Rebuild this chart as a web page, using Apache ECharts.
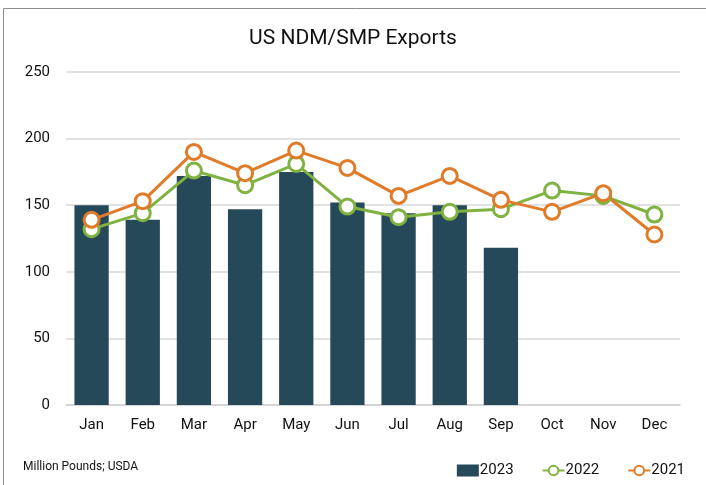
<!DOCTYPE html>
<html style="height: 100%">
<head>
    <meta charset="utf-8">
    <script src="https://cdn.jsdelivr.net/npm/echarts@6/dist/echarts.min.js"></script>
</head>
<body style="height: 100%; margin: 0; background: #fff;">
    <div id="container" style="width: 706px; height: 485px;"></div>
    <script>
    var months = ['Jan', 'Feb', 'Mar', 'Apr', 'May', 'Jun', 'Jul', 'Aug', 'Sep', 'Oct', 'Nov', 'Dec'];
    var exports2023 = [150, 139, 172, 147, 175, 152, 144, 150, 118];
    var exports2022 = [132, 144, 176, 165, 181, 149, 141, 145, 147, 161, 157, 143];
    var exports2021 = [139, 153, 190, 174, 191, 178, 157, 172, 154, 145, 159, 128];

    var font = "'Roboto', sans-serif";
    var barColor = '#26495a';
    var green = '#7fb241';
    var orange = '#e07b29';

    var chart = echarts.init(document.getElementById('container'));

    function lineSeries(name, data, color) {
        return {
            name: name,
            type: 'line',
            data: data,
            symbol: 'circle',
            symbolSize: 15,
            lineStyle: { color: color, width: 3 },
            itemStyle: { color: '#fff', borderColor: color, borderWidth: 3 },
            z: 3
        };
    }

    var option = {
        animation: false,
        textStyle: { fontFamily: font },
        title: {
            text: 'US NDM/SMP Exports',
            left: 'center',
            top: 23,
            textStyle: { fontFamily: font, fontSize: 21, fontWeight: 'normal', color: '#111' }
        },
        graphic: [{
            type: 'polyline',
            shape: { points: [[3.5, 490], [3.5, 8.5], [710, 8.5]] },
            style: { stroke: '#8c8c8c', lineWidth: 1, fill: null }
        }, {
            type: 'text',
            left: 23,
            top: 461,
            style: { text: 'Million Pounds; USDA', fontFamily: font, fontSize: 12, fill: '#111' }
        }],
        legend: {
            right: 16,
            top: 458,
            itemGap: 28,
            itemWidth: 22,
            itemHeight: 12,
            textStyle: { fontFamily: font, fontSize: 15, color: '#111', padding: [0, 0, 0, -4] },
            data: [
                { name: '2023', icon: 'rect' },
                { name: '2022' },
                { name: '2021' }
            ]
        },
        grid: { left: 66, right: 26, top: 72, bottom: 80, containLabel: false },
        xAxis: {
            type: 'category',
            data: months,
            axisLine: { lineStyle: { color: '#d0d0d0', width: 1.5 } },
            axisTick: { show: false },
            axisLabel: { fontFamily: font, fontSize: 15, color: '#111', margin: 13 }
        },
        yAxis: {
            type: 'value',
            min: 0,
            max: 250,
            interval: 50,
            axisLine: { show: false },
            axisTick: { show: false },
            axisLabel: { fontFamily: font, fontSize: 15, color: '#111', margin: 16 },
            splitLine: { lineStyle: { color: '#d9d9d9', width: 1.5 } }
        },
        series: [{
            name: '2023',
            type: 'bar',
            data: exports2023,
            barWidth: '67%',
            itemStyle: { color: barColor },
            z: 2
        },
        lineSeries('2022', exports2022, green),
        lineSeries('2021', exports2021, orange)]
    };

    chart.setOption(option);
    </script>
</body>
</html>
